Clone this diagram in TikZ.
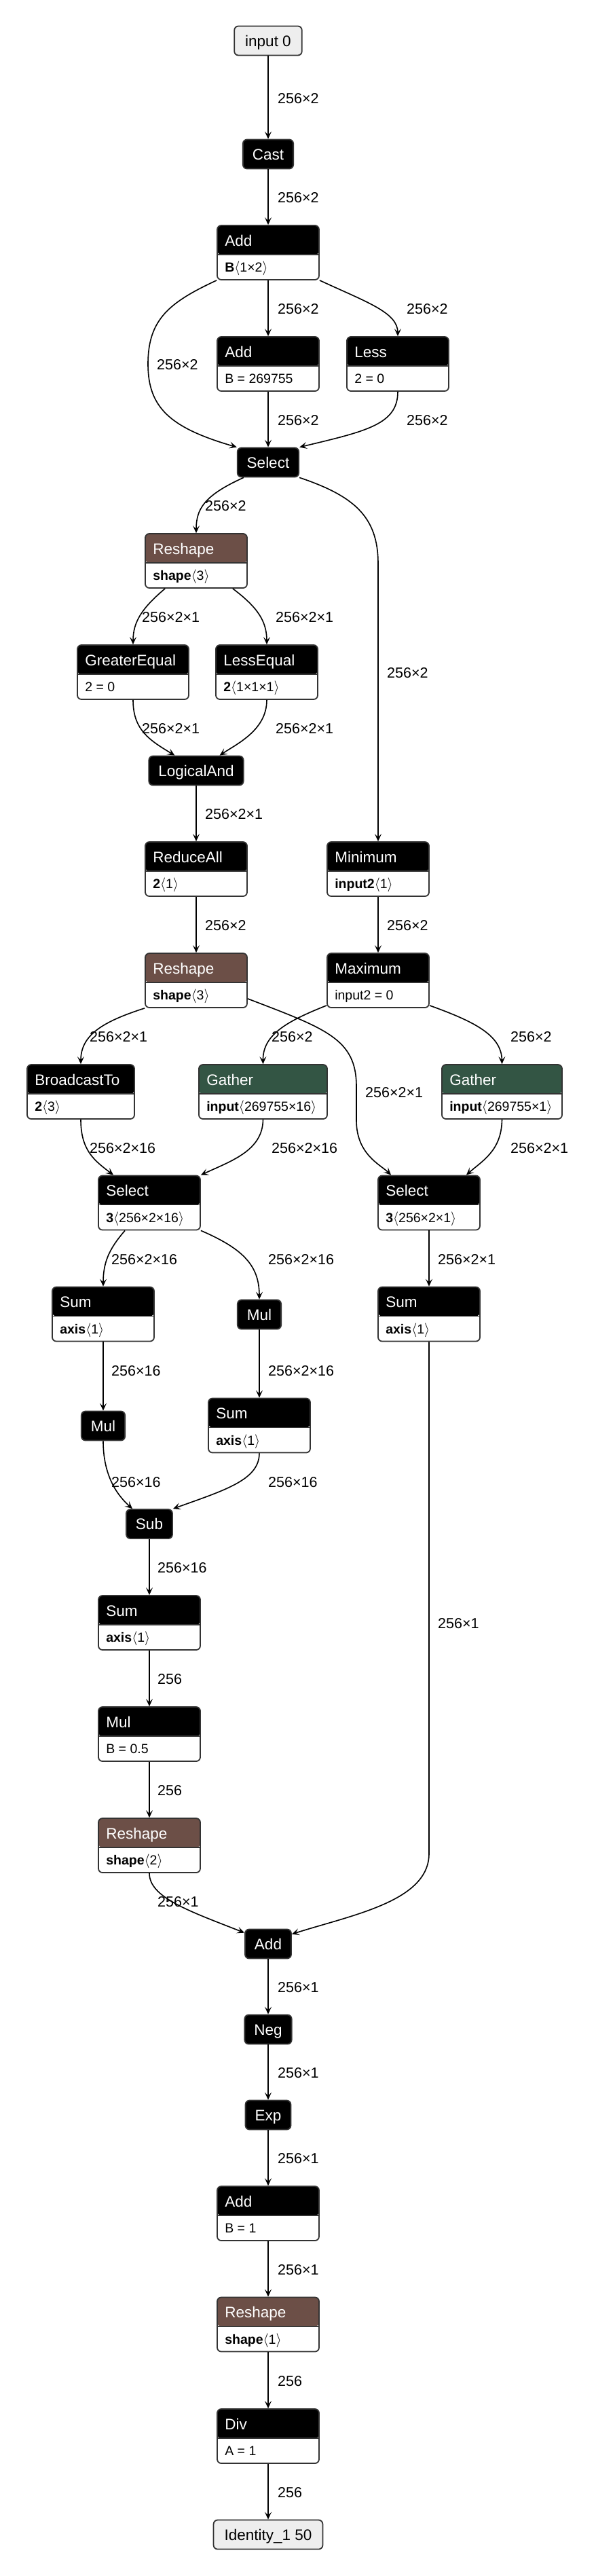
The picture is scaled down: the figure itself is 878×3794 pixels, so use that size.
\documentclass[tikz,border=0pt]{standalone}
\usepackage{fontspec}
\setmainfont{Liberation Sans}
\usetikzlibrary{arrows.meta}

\definecolor{rim}{HTML}{333333}
\definecolor{reshapec}{HTML}{6C4F47}
\definecolor{gatherc}{HTML}{335544}
\definecolor{ioc}{HTML}{EEEEEE}

\newcommand{\titlefont}{\fontsize{22.5}{27}\selectfont}
\newcommand{\attrfont}{\fontsize{19.5}{23}\selectfont}
\newcommand{\edgefont}{\fontsize{21.5}{26}\selectfont}
\newcommand{\brk}[1]{$\langle$#1$\rangle$}

\tikzset{
  box/.style={draw=rim, line width=1.8pt, rounded corners=6pt, fill=white,
    inner sep=0pt, minimum width=150pt, minimum height=80pt},
  hd/.style={path picture={
    \fill[#1] (path picture bounding box.north west) rectangle ([yshift=-43pt]path picture bounding box.north east);
    \draw[rim, line width=1.8pt] ([yshift=-43pt]path picture bounding box.north west) -- ([yshift=-43pt]path picture bounding box.north east);}},
  title/.style={label={[font=\titlefont, text=white, anchor=base west, inner sep=0pt, xshift=12pt, yshift=-31pt]north west:#1}},
  attr/.style={label={[font=\attrfont, anchor=base west, inner sep=0pt, xshift=12pt, yshift=12pt]south west:#1}},
  op/.style={draw=rim, fill=black, text=white, font=\titlefont, line width=1.8pt, rounded corners=6pt,
    minimum height=43pt, inner xsep=14pt, inner ysep=0pt, text height=16pt, text depth=0pt},
  io/.style={op, fill=ioc, text=black, inner xsep=16pt},
  conn/.style={line width=1.6pt, -{Stealth[length=11pt,width=10pt,inset=5pt]}},
  lab/.style={font=\edgefont, anchor=west, inner sep=0pt},
}

\begin{document}
\begin{tikzpicture}[x=1pt,y=-1pt]
\useasboundingbox (0,0) rectangle (878,3794);

% nodes
\node[io] (in0) at (395,60) {input 0};
\node[op] (cast) at (395,227) {Cast};
\node[box, hd=black, title=Add, attr={\textbf{B}\brk{1×2}}] (addB) at (395,372) {};
\node[box, hd=black, title=Add, attr={B = 269755}] (addC) at (395,536) {};
\node[box, hd=black, title=Less, attr={2 = 0}] (less) at (586,536) {};
\node[op] (sel) at (395,681) {Select};
\node[box, hd=reshapec, title=Reshape, attr={\textbf{shape}\brk{3}}] (resA) at (289,826) {};
\node[box, hd=black, minimum width=164pt, title=GreaterEqual, attr={2 = 0}] (ge) at (196,990) {};
\node[box, hd=black, title=LessEqual, attr={\textbf{2}\brk{1×1×1}}] (le) at (393,990) {};
\node[op] (land) at (289,1135) {LogicalAnd};
\node[box, hd=black, title=ReduceAll, attr={\textbf{2}\brk{1}}] (red) at (289,1280) {};
\node[box, hd=black, title=Minimum, attr={\textbf{input2}\brk{1}}] (minm) at (557,1280) {};
\node[box, hd=reshapec, title=Reshape, attr={\textbf{shape}\brk{3}}] (resB) at (289,1444) {};
\node[box, hd=black, title=Maximum, attr={input2 = 0}] (maxm) at (557,1444) {};
\node[box, hd=black, minimum width=158pt, title=BroadcastTo, attr={\textbf{2}\brk{3}}] (bcast) at (119,1608) {};
\node[box, hd=gatherc, minimum width=189pt, title=Gather, attr={\textbf{input}\brk{269755×16}}] (gatA) at (387.5,1608) {};
\node[box, hd=gatherc, minimum width=177pt, title=Gather, attr={\textbf{input}\brk{269755×1}}] (gatB) at (739.5,1608) {};
\node[box, hd=black, title=Select, attr={\textbf{3}\brk{256×2×16}}] (selA) at (220,1771.5) {};
\node[box, hd=black, title=Select, attr={\textbf{3}\brk{256×2×1}}] (selB) at (632,1771.5) {};
\node[box, hd=black, title=Sum, attr={\textbf{axis}\brk{1}}] (sumA) at (152,1935.5) {};
\node[op] (mulA) at (382,1936) {Mul};
\node[box, hd=black, title=Sum, attr={\textbf{axis}\brk{1}}] (sumC) at (632,1935.5) {};
\node[op] (mulB) at (152,2100) {Mul};
\node[box, hd=black, title=Sum, attr={\textbf{axis}\brk{1}}] (sumB) at (382,2099.5) {};
\node[op] (sub) at (220,2244.5) {Sub};
\node[box, hd=black, title=Sum, attr={\textbf{axis}\brk{1}}] (sumD) at (220,2390) {};
\node[box, hd=black, title=Mul, attr={B = 0.5}] (mulC) at (220,2554) {};
\node[box, hd=reshapec, title=Reshape, attr={\textbf{shape}\brk{2}}] (resC) at (220,2718) {};
\node[op] (addS) at (395,2863) {Add};
\node[op] (neg) at (395,2989) {Neg};
\node[op] (exp) at (395,3115) {Exp};
\node[box, hd=black, title=Add, attr={B = 1}] (addO) at (395,3260) {};
\node[box, hd=reshapec, title=Reshape, attr={\textbf{shape}\brk{1}}] (resD) at (395,3423.5) {};
\node[box, hd=black, title=Div, attr={A = 1}] (div) at (395,3588) {};
\node[io] (out) at (395,3733) {Identity\_1 50};

% straight edges
\foreach \a/\b in {in0/cast, cast/addB, addB/addC, addC/sel, land/red, red/resB, minm/maxm,
  selB/sumC, sumA/mulB, mulA/sumB, sub/sumD, sumD/mulC, mulC/resC,
  addS/neg, neg/exp, exp/addO, addO/resD, resD/div, div/out}
  \draw[conn] (\a.south) -- (\b.north);

% curved edges
\draw[conn] (addB.south west) .. controls (250,445) and (218,470) .. (218,536) .. controls (218,600) and (250,630) .. (sel.north west);
\draw[conn] (addB.south east) .. controls (540,445) and (586,460) .. (less.north);
\draw[conn] (less.south) .. controls (586,625) and (540,635) .. (sel.north east);
\draw[conn] ([xshift=10pt]sel.south west) .. controls (300,730) and (289,750) .. (resA.north);
\draw[conn] (sel.south east) .. controls (520,730) and (557,760) .. (557,830) -- (minm.north);
\draw[conn] ([xshift=30pt]resA.south west) .. controls (210,895) and (196,915) .. (ge.north);
\draw[conn] ([xshift=-22pt]resA.south east) .. controls (380,895) and (393,915) .. (le.north);
\draw[conn] (ge.south) .. controls (196,1075) and (220,1090) .. ([xshift=39pt]land.north west);
\draw[conn] (le.south) .. controls (393,1075) and (350,1095) .. ([xshift=-36pt]land.north east);
\draw[conn] (resB.south west) .. controls (150,1505) and (119,1525) .. (bcast.north);
\draw[conn] ([yshift=14pt]resB.south east) .. controls (480,1515) and (525,1530) .. (525,1600) -- (525,1650) .. controls (525,1700) and (560,1715) .. ([xshift=20pt]selB.north west);
\draw[conn] ([yshift=4pt]maxm.south west) .. controls (420,1505) and (387,1525) .. (gatA.north);
\draw[conn] ([yshift=4pt]maxm.south east) .. controls (700,1505) and (739,1525) .. (gatB.north);
\draw[conn] (bcast.south) .. controls (119,1695) and (140,1710) .. ([xshift=23pt]selA.north west);
\draw[conn] (gatA.south) .. controls (387,1695) and (340,1710) .. (selA.north east);
\draw[conn] (gatB.south) .. controls (739,1695) and (710,1710) .. ([xshift=-21pt]selB.north east);
\draw[conn] ([xshift=40pt]selA.south west) .. controls (160,1840) and (152,1860) .. (sumA.north);
\draw[conn] (selA.south east) .. controls (360,1840) and (382,1865) .. (mulA.north);
\draw[conn] (mulB.south) .. controls (152,2170) and (170,2200) .. ([xshift=10pt]sub.north west);
\draw[conn] (sumB.south) .. controls (382,2180) and (330,2195) .. (sub.north east);
\draw[conn] (resC.south) .. controls (220,2795) and (280,2815) .. ([yshift=-6pt]addS.north west);
\draw[conn] (sumC.south) -- (632,2730) .. controls (632,2800) and (520,2820) .. ([yshift=-8pt]addS.north east);

% edge labels
\foreach \x/\y/\t [count=\i] in {409/145/256×2, 409/291/256×2, 231/537/256×2, 409/455/256×2,
  599/455/256×2, 409/619/256×2, 599/619/256×2, 302/745/256×2, 570/991/256×2,
  209/909/256×2×1, 406/909/256×2×1, 209/1073/256×2×1, 406/1073/256×2×1,
  302/1199/256×2×1, 302/1363/256×2, 570/1363/256×2, 132/1527/256×2×1,
  538/1609/256×2×1, 400/1527/256×2, 752/1527/256×2, 132/1691/256×2×16,
  400/1691/256×2×16, 752/1691/256×2×1, 164/1855/256×2×16, 395/1855/256×2×16,
  645/1855/256×2×1, 164/2019/256×16, 395/2019/256×2×16, 164/2183/256×16,
  395/2183/256×16, 232/2309/256×16, 232/2473/256, 232/2637/256, 232/2801/256×1,
  645/2391/256×1, 409/2927/256×1, 409/3053/256×1, 409/3179/256×1,
  409/3343/256×1, 409/3507/256, 409/3671/256}
  \node[lab] (l\i) at (\x,\y) {\t};

\end{tikzpicture}
\end{document}
